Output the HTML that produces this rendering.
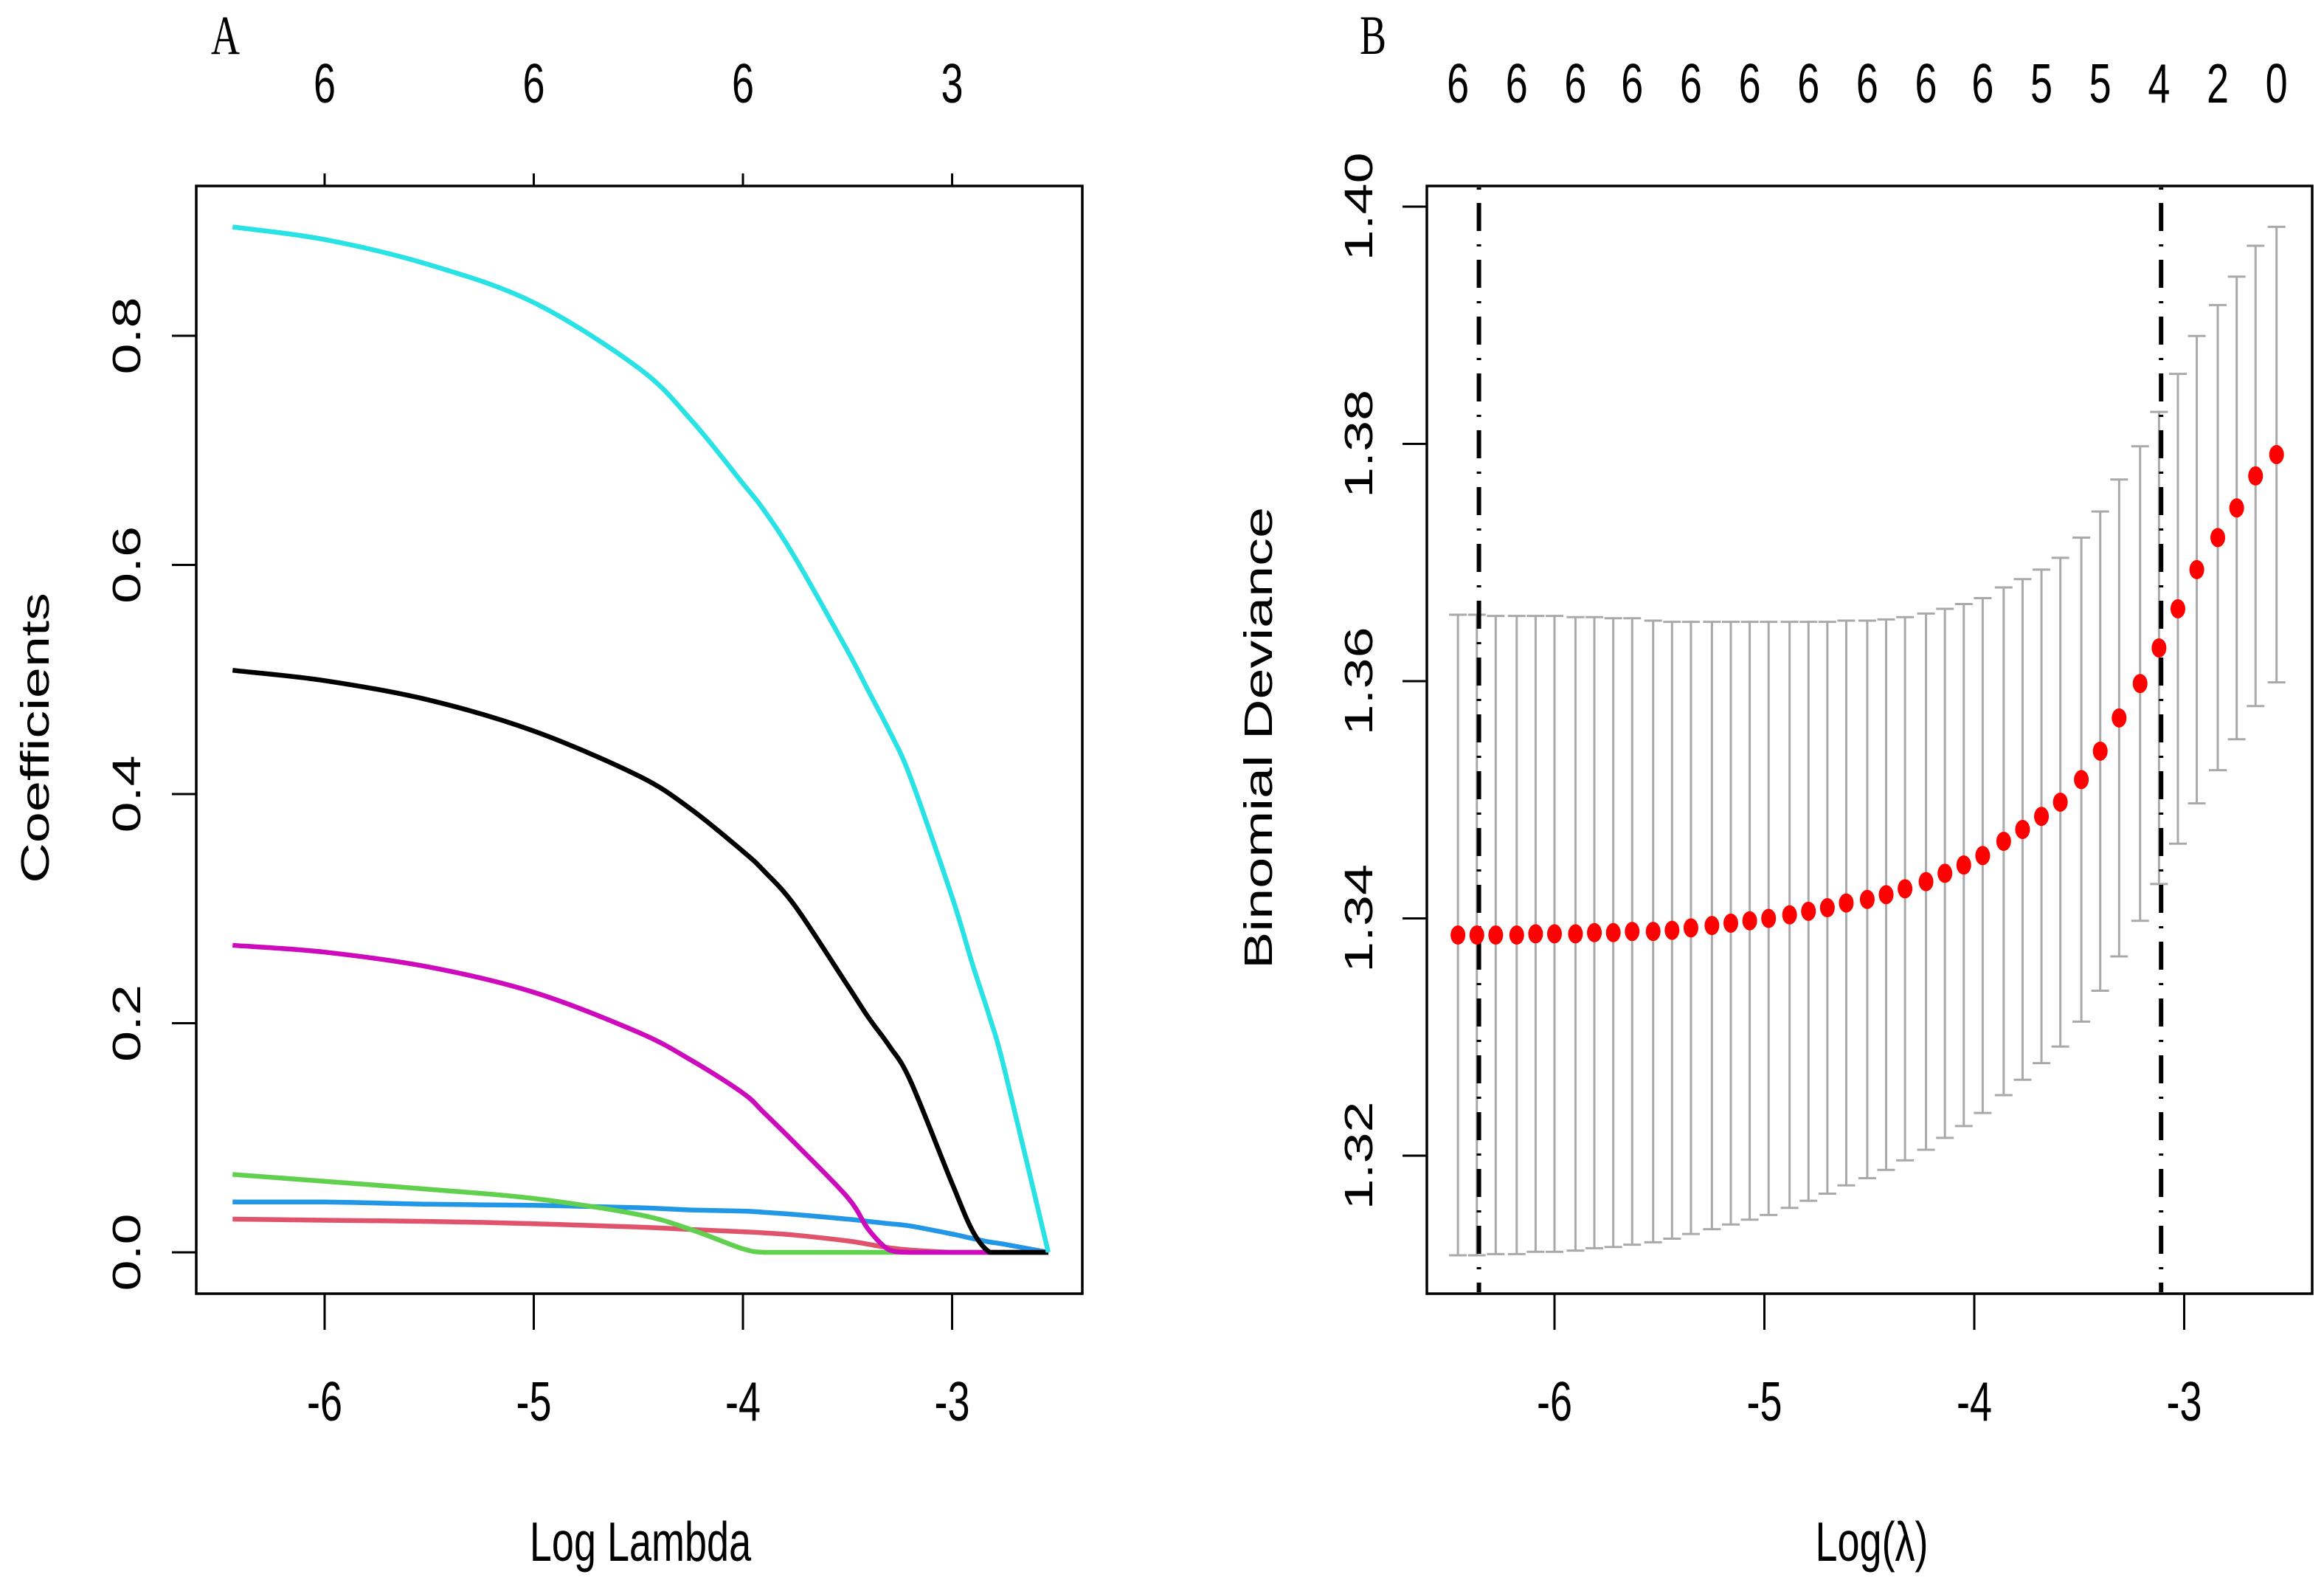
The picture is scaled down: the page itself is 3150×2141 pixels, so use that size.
<!DOCTYPE html>
<html><head><meta charset="utf-8"><style>
html,body{margin:0;padding:0;background:#fff;}
svg{display:block;}
text{font-family:"Liberation Sans",sans-serif;fill:#000;}
</style></head><body>
<svg id="chart" width="3150" height="2141" viewBox="0 0 3150 2141" xmlns="http://www.w3.org/2000/svg">
<g id="pa"></g>
<g id="pb"></g>
</svg>
<script>
// Panel A data
const aLogLambda = [-6.44,-6,-5.5,-5,-4.5,-4.25,-4,-3.9,-3.75,-3.5,-3.4,-3.3,-3.2,-3,-2.9,-2.82,-2.75,-2.54];
const aCyan    = [0.895,0.884,0.862,0.829,0.772,0.727,0.671,0.648,0.606,0.525,0.490,0.455,0.415,0.310,0.250,0.205,0.160,0];
const aBlack   = [0.508,0.499,0.482,0.455,0.416,0.387,0.350,0.333,0.302,0.233,0.205,0.180,0.150,0.060,0.018,0,0,0];
const aMagenta = [0.268,0.262,0.249,0.227,0.192,0.168,0.139,0.122,0.095,0.048,0.020,0.002,0,0,0,0,0,0];
const aGreen   = [0.068,0.062,0.055,0.047,0.033,0.020,0.003,0,0,0,0,0,0,0,0,0,0,0];
const aBlue    = [0.044,0.044,0.042,0.041,0.039,0.037,0.036,0.035,0.033,0.029,0.027,0.025,0.023,0.016,0.012,0.009,0.007,0];
const aRed     = [0.029,0.028,0.027,0.025,0.022,0.020,0.018,0.017,0.015,0.010,0.007,0.004,0.002,0,0,0,0,0];
const aXTicks = [-6,-5,-4,-3];
const aTopLabels = ["6","6","6","3"];
const aYTicks = [0,0.2,0.4,0.6,0.8];
const aYTickLabels = ["0.0","0.2","0.4","0.6","0.8"];

// Panel B data
const bLogLambda = [-6.46,-6.37,-6.28,-6.18,-6.09,-6.00,-5.90,-5.81,-5.72,-5.63,-5.53,-5.44,-5.35,-5.25,-5.16,-5.07,-4.98,-4.88,-4.79,-4.70,-4.61,-4.51,-4.42,-4.33,-4.23,-4.14,-4.05,-3.96,-3.86,-3.77,-3.68,-3.59,-3.49,-3.40,-3.31,-3.21,-3.12,-3.03,-2.94,-2.84,-2.75,-2.66,-2.56];
const bDeviance = [1.3386,1.3386,1.3386,1.3386,1.3387,1.3387,1.3387,1.3388,1.3388,1.3389,1.3389,1.3390,1.3392,1.3394,1.3396,1.3398,1.3400,1.3403,1.3406,1.3409,1.3413,1.3416,1.3420,1.3425,1.3431,1.3438,1.3445,1.3453,1.3465,1.3475,1.3486,1.3498,1.3517,1.3541,1.3569,1.3598,1.3628,1.3661,1.3694,1.3721,1.3746,1.3773,1.3791];
const bSE = [0.0270,0.0270,0.0269,0.0269,0.0268,0.0268,0.0267,0.0266,0.0265,0.0264,0.0262,0.0260,0.0258,0.0256,0.0254,0.0252,0.0250,0.0247,0.0244,0.0241,0.0238,0.0235,0.0232,0.0229,0.0226,0.0223,0.0220,0.0217,0.0214,0.0211,0.0208,0.0206,0.0204,0.0202,0.0201,0.0200,0.0199,0.0198,0.0197,0.0196,0.0195,0.0194,0.0192];
const bNonzero = ["6","","","6","","","6","","","6","","","6","","","6","","","6","","","6","","","6","","","6","","","5","","","5","","","4","","","2","","","0"];
const bXTicks = [-6,-5,-4,-3];
const bYTicks = [1.32,1.34,1.36,1.38,1.40];
const bYTickLabels = ["1.32","1.34","1.36","1.38","1.40"];
const bLambdaMin = -6.36;
const bLambda1se = -3.11;

const NS="http://www.w3.org/2000/svg";
const SY=1.4, FS=54;
function mk(parent,tag,attrs,txt){const e=document.createElementNS(NS,tag);for(const k in attrs)e.setAttribute(k,attrs[k]);if(txt!==undefined)e.textContent=txt;parent.appendChild(e);return e;}
function txt(parent,x,y,s,rot,extra){
  const a=Object.assign({x:0,y:0,'font-size':FS,'text-anchor':'middle',transform:`translate(${x},${y}) scale(1,${SY})`+(rot?' rotate(-90)':'')},extra||{});
  return mk(parent,'text',a,s);
}
function clampY(v,a,b){const lo=Math.min(a,b),hi=Math.max(a,b);return Math.max(lo,Math.min(hi,v));}
function smooth(pts){
  let d=`M${pts[0][0]},${pts[0][1]}`;
  for(let i=0;i<pts.length-1;i++){
    const p0=pts[Math.max(i-1,0)],p1=pts[i],p2=pts[i+1],p3=pts[Math.min(i+2,pts.length-1)];
    const c1=[p1[0]+(p2[0]-p0[0])/6,clampY(p1[1]+(p2[1]-p0[1])/6,p1[1],p2[1])];
    const c2=[p2[0]-(p3[0]-p1[0])/6,clampY(p2[1]-(p3[1]-p1[1])/6,p1[1],p2[1])];
    d+=` C${c1[0].toFixed(1)},${c1[1].toFixed(1)} ${c2[0].toFixed(1)},${c2[1].toFixed(1)} ${p2[0].toFixed(1)},${p2[1].toFixed(1)}`;
  }
  return d;
}

// ---- Panel A ----
const pa=document.getElementById('pa');
const ax=v=>440+(v+6)*283.5;
const ay=v=>1697-v*1552.5;
let r=mk(pa,'rect',{x:266,y:252,width:1201,height:1501,fill:'none',stroke:'#000','stroke-width':3.5});


aXTicks.forEach((t,i)=>{
  let l=mk(pa,'line',{x1:ax(t),x2:ax(t),y1:1753,y2:1802,stroke:'#000','stroke-width':3});
  
  
  let tx=txt(pa,ax(t),1925,'-'+Math.abs(t));
  
  
  let l2=mk(pa,'line',{x1:ax(t),x2:ax(t),y1:252,y2:235,stroke:'#000','stroke-width':3});
  
  
  let t2=txt(pa,ax(t),139,aTopLabels[i]);
  
  
});
aYTicks.forEach((t,i)=>{
  let l=mk(pa,'line',{x1:266,x2:233,y1:ay(t),y2:ay(t),stroke:'#000','stroke-width':3});
  
  
  let tx=txt(pa,190,ay(t),aYTickLabels[i],true);
  
  
});
const series=[[aBlue,'#2297E6','coef-blue'],[aRed,'#DF536B','coef-red'],[aGreen,'#61D04F','coef-green'],[aMagenta,'#CD0BBC','coef-magenta'],[aBlack,'#000000','coef-black'],[aCyan,'#28E2E5','coef-cyan']];
series.forEach(s=>{
  const pts=aLogLambda.map((x,i)=>[ax(x),ay(s[0][i])]);
  let p=mk(pa,'path',{d:smooth(pts),fill:'none',stroke:s[1],'stroke-width':6.5,'stroke-linejoin':'round'});
  
  
});
let t;
t=txt(pa,868,2115,'Log Lambda');


t=txt(pa,66,1000,'Coefficients',true);


t=mk(pa,'text',{x:0,y:0,'font-size':54,transform:`translate(286,73) scale(1,${SY})`,style:'font-family:"Liberation Serif",serif'},'A');



// ---- Panel B ----
const pb=document.getElementById('pb');
const bx=v=>2107+(v+6)*284.5;
const by=v=>280+(1.40-v)/0.02*321.5;
r=mk(pb,'rect',{x:1934,y:252,width:1200,height:1501,fill:'none',stroke:'#000','stroke-width':3.5});


bXTicks.forEach(tk=>{
  let l=mk(pb,'line',{x1:bx(tk),x2:bx(tk),y1:1753,y2:1802,stroke:'#000','stroke-width':3});
  
  
  let tx=txt(pb,bx(tk),1925,'-'+Math.abs(tk));
  
  
});
bYTicks.forEach((tk,i)=>{
  let l=mk(pb,'line',{x1:1934,x2:1901,y1:by(tk),y2:by(tk),stroke:'#000','stroke-width':3});
  
  
  let tx=txt(pb,1860,by(tk),bYTickLabels[i],true);
  
  
});
bLogLambda.forEach((x,i)=>{
  const cx=bx(x), up=by(bDeviance[i]+bSE[i]), lo=by(bDeviance[i]-bSE[i]);
  let e=mk(pb,'path',{d:`M${cx},${up}V${lo}M${cx-12},${up}H${cx+12}M${cx-12},${lo}H${cx+12}`,stroke:'#a9a9a9','stroke-width':3,fill:'none'});
  
  
  if(bNonzero[i]){
    let tx=txt(pb,cx,139,bNonzero[i]);
    
    
  }
});
[bLambdaMin,bLambda1se].forEach((v,i)=>{
  let l=mk(pb,'line',{x1:bx(v),x2:bx(v),y1:254,y2:1751,stroke:'#000','stroke-width':6,'stroke-dasharray':'3 18 38 18'});
  
  
});
bLogLambda.forEach((x,i)=>{
  let c=mk(pb,'ellipse',{cx:bx(x),cy:by(bDeviance[i]),rx:10,ry:13,fill:'#ff0000'});
  
  
});
t=txt(pb,2537,2115,'Log(\u03bb)');


t=txt(pb,1724,1000,'Binomial Deviance',true);


t=mk(pb,'text',{x:0,y:0,'font-size':54,transform:`translate(1843,73) scale(1,${SY})`,style:'font-family:"Liberation Serif",serif'},'B');


</script>
</body></html>
